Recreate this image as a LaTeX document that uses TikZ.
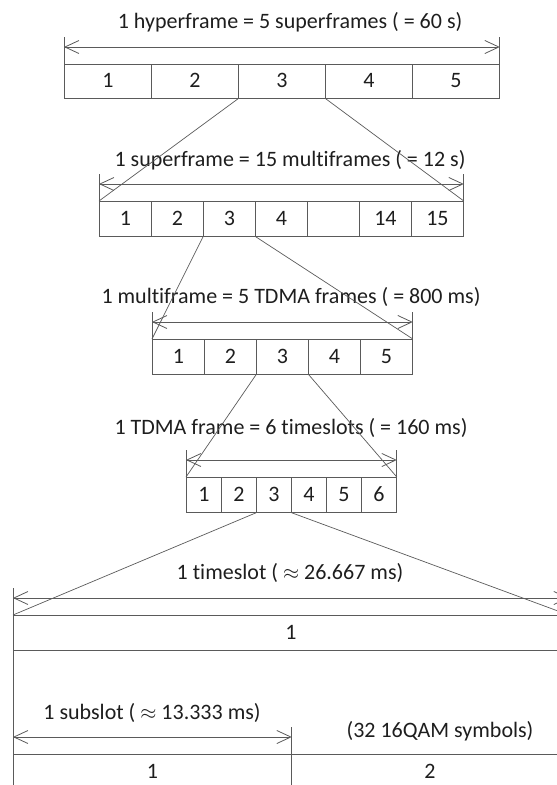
\documentclass[tikz,border=0pt]{standalone}
\usepackage{fontspec}
\setmainfont[Ligatures=NoCommon]{Carlito}
\usetikzlibrary{arrows.meta}
\definecolor{frameline}{HTML}{5A5A5A}
\definecolor{labeltext}{HTML}{1E1E1E}

\begin{document}
\begin{tikzpicture}[x=1pt, y=-1pt,
  font=\fontsize{22}{26}\selectfont,
  cell/.style={draw=frameline, line width=0.8pt, minimum height=35pt, inner sep=0pt, text height=14pt, text depth=1pt, anchor=north west, text=labeltext},
  span/.style={{Straight Barb[length=14pt,width=13pt]}-{Straight Barb[length=14pt,width=13pt]}, draw=frameline, line width=0.8pt},
  tick/.style={draw=frameline, line width=0.8pt},
  zoomline/.style={draw=frameline, line width=0.7pt},
  title/.style={text=labeltext, inner sep=0pt}
]
  \useasboundingbox (0,0) rectangle (557,785);

  % hyperframe
  \node[title] (hftitle) at (290,22) {1 hyperframe = 5 superframes ( = 60 s)};
  \foreach \lab [count=\i] in {1,2,3,4,5}
    \node[cell, minimum width=87pt, minimum height=34pt] (hf\i) at ({64+87*(\i-1)},64) {\lab};
  \draw[tick] (hf1.north west) -- ([yshift=27pt]hf1.north west);
  \draw[tick] (hf5.north east) -- ([yshift=27pt]hf5.north east);
  \draw[span] ([yshift=17pt]hf1.north west) -- ([yshift=17pt]hf5.north east);

  % superframe
  \node[title] (sftitle) at (290,160) {1 superframe = 15 multiframes ( = 12 s)};
  \foreach \lab [count=\i] in {1,2,3,4,{},14,15}
    \node[cell, minimum width=52pt] (sf\i) at ({99+52*(\i-1)},201) {\lab};
  \draw[tick] (sf1.north west) -- ([yshift=27pt]sf1.north west);
  \draw[tick] (sf7.north east) -- ([yshift=27pt]sf7.north east);
  \draw[span] ([yshift=17pt]sf1.north west) -- ([yshift=17pt]sf7.north east);
  \draw[zoomline] (hf3.south west) -- (sf1.north west);
  \draw[zoomline] (hf3.south east) -- (sf7.north east);

  % multiframe
  \node[title] (mftitle) at (291,297) {1 multiframe = 5 TDMA frames ( = 800 ms)};
  \foreach \lab [count=\i] in {1,2,3,4,5}
    \node[cell, minimum width=52pt] (mf\i) at ({152+52*(\i-1)},339) {\lab};
  \draw[tick] (mf1.north west) -- ([yshift=27pt]mf1.north west);
  \draw[tick] (mf5.north east) -- ([yshift=27pt]mf5.north east);
  \draw[span] ([yshift=17pt]mf1.north west) -- ([yshift=17pt]mf5.north east);
  \draw[zoomline] (sf3.south west) -- (mf1.north west);
  \draw[zoomline] (sf3.south east) -- (mf5.north east);

  % TDMA frame
  \node[title] (tftitle) at (291,428) {1 TDMA frame = 6 timeslots ( = 160 ms)};
  \foreach \lab [count=\i] in {1,2,3,4,5,6}
    \node[cell, minimum width=35pt] (tf\i) at ({186+35*(\i-1)},477) {\lab};
  \draw[tick] (tf1.north west) -- ([yshift=27pt]tf1.north west);
  \draw[tick] (tf6.north east) -- ([yshift=27pt]tf6.north east);
  \draw[span] ([yshift=17pt]tf1.north west) -- ([yshift=17pt]tf6.north east);
  \draw[zoomline] (mf3.south west) -- (tf1.north west);
  \draw[zoomline] (mf3.south east) -- (tf6.north east);

  % timeslot
  \node[title] (tstitle) at (290,573) {1 timeslot ( $\approx$ 26.667 ms)};
  \node[cell, minimum width=555pt] (ts1) at (13,615) {1};
  \draw[span] ([yshift=17pt]ts1.north west) -- ([yshift=17pt]ts1.north east);
  \draw[zoomline] (tf3.south west) -- (ts1.north west);
  \draw[zoomline] (tf3.south east) -- (ts1.north east);

  % subslots
  \node[title] (sstitle) at (152,713) {1 subslot ( $\approx$ 13.333 ms)};
  \node[title] (symtitle) at (440,731) {(32 16QAM symbols)};
  \node[cell, minimum width=278pt] (ss1) at (13,754) {1};
  \node[cell, minimum width=277pt] (ss2) at (291,754) {2};
  \draw[tick] ([yshift=27pt]ts1.north west) -- (ss1.south west);
  \draw[tick] ([yshift=27pt]ts1.north east) -- (ss2.south east);
  \draw[tick] (ss1.north east) -- ([yshift=27pt]ss1.north east);
  \draw[span] ([yshift=17pt]ss1.north west) -- ([yshift=17pt]ss1.north east);
\end{tikzpicture}
\end{document}
